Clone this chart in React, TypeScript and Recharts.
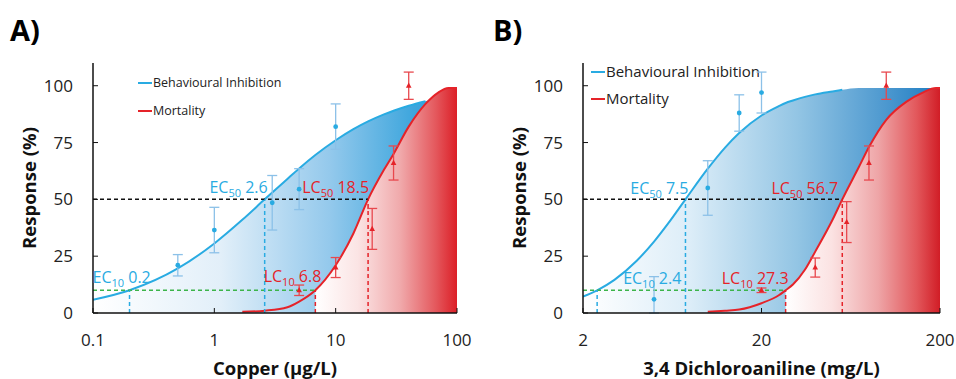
import React from "react";
import {
  ComposedChart,
  Area,
  Line,
  Scatter,
  ErrorBar,
  XAxis,
  YAxis,
  ReferenceLine,
  ReferenceDot,
  Label,
} from "recharts";

// ---- Panel A: copper ----
const copperX = [0.1, 0.2, 0.5, 1, 1.7, 2.6, 4, 5, 6.8, 10, 14, 18.5, 25, 30, 40, 55, 70, 85, 100];
const copperBehaviour = [5.8, 10, 19.6, 30.6, 41, 50, 59, 63.6, 69.5, 76, 80.9, 84.3, 87.4, 89, 91.2, 93.2, 94.4, 95.2, 95.8];
const copperBehavLineEnd = 55;
const copperMortality = [null, null, null, null, 0.5, 1, 2.5, 5, 10, 21, 35, 50, 63, 70, 82, 92, 97, 99, 99];
const copperBehavPtsX = [0.5, 1, 3, 5, 10];
const copperBehavPtsY = [21, 36.5, 48.5, 54.5, 82];
const copperBehavErr = [4.7, 10, 12, 9, 10];
const copperMortPtsX = [5, 10, 20, 30, 40];
const copperMortPtsY = [10, 20, 37, 66, 100];
const copperMortErr = [2.3, 4.4, 9, 7.5, 6];
const copperEC = [0.2, 2.6]; // EC10, EC50
const copperLC = [6.8, 18.5]; // LC10, LC50
const copperTicks = [0.1, 1, 10, 100];

// ---- Panel B: 3,4 dichloroaniline ----
const dcaX = [2, 2.4, 3, 4, 5, 6, 7.5, 10, 12.5, 15, 20, 25, 27.3, 30, 35, 40, 50, 56.7, 70, 80, 100, 130, 160, 190, 200];
const dcaBehaviour = [7.2, 10, 14.6, 23, 31.4, 39.4, 50, 63.5, 72.8, 79.2, 86.9, 91, 92.4, 93.5, 95.1, 96.2, 97.5, 98.2, 99, 99, 99, 99, 99, 99, 99];
const dcaBehavLineEnd = 56.7;
const dcaMortality = [null, null, null, null, null, null, null, 0.5, 1, 1.5, 4.3, 7.8, 10, 12.5, 19, 27, 41, 50, 64, 73, 85, 93, 97, 99, 99];
const dcaBehavPtsX = [5, 10, 15, 20];
const dcaBehavPtsY = [6, 55, 88, 97];
const dcaBehavErr: (number | number[])[] = [[6, 10], 12, 8, 9];
const dcaMortPtsX = [20, 40, 60, 80, 100];
const dcaMortPtsY = [10, 20, 40, 66, 100];
const dcaMortErr = [1, 4.2, 9, 7.5, 6];
const dcaEC = [2.4, 7.5];
const dcaLC = [27.3, 56.7];
const dcaTicks = [2, 20, 200];

const yTicks = [0, 25, 50, 75, 100];

const FONT = "'Open Sans', 'Segoe UI', sans-serif";
const BLUE = "#29abe2";
const RED = "#e52329";
const GREEN = "#3cb44a";

const DoseLabel = (props: any) => {
  const { viewBox, prefix, sub, value, color, dx, dy, anchor } = props;
  if (!viewBox) return null;
  return (
    <text
      x={viewBox.x + dx}
      y={viewBox.y + dy}
      fill={color}
      fontSize={16}
      fontFamily={FONT}
      textAnchor={anchor}
    >
      {prefix}
      <tspan fontSize={11} dy={4}>{sub}</tspan>
      <tspan dy={-4}>{" " + value}</tspan>
    </text>
  );
};

const Dot = (color: string) => (p: any) =>
  p.cx == null ? null : <circle cx={p.cx} cy={p.cy} r={2.4} fill={color} />;

const Tri = (color: string) => (p: any) =>
  p.cx == null ? null : (
    <path
      d={`M${p.cx},${p.cy - 3.2} L${p.cx + 2.8},${p.cy + 2} L${p.cx - 2.8},${p.cy + 2} Z`}
      fill={color}
    />
  );

const Legend2 = ({ x, y, gap, size }: { x: number; y: number; gap: number; size: number }) => (
  <g fontFamily={FONT} fontSize={size} fill="#222">
    <line x1={x} x2={x + 14} y1={y} y2={y} stroke={BLUE} strokeWidth={2} />
    <text x={x + 15} y={y} dy="0.35em">Behavioural Inhibition</text>
    <line x1={x} x2={x + 14} y1={y + gap} y2={y + gap} stroke={RED} strokeWidth={2} />
    <text x={x + 15} y={y + gap} dy="0.35em">Mortality</text>
  </g>
);

type PanelProps = {
  id: string;
  letter: string;
  xs: number[];
  behaviour: number[];
  behavLineEnd: number;
  mortality: (number | null)[];
  bX: number[];
  bY: number[];
  bErr: (number | number[])[];
  mX: number[];
  mY: number[];
  mErr: number[];
  ec: number[];
  lc: number[];
  ticks: number[];
  xTitle: string;
  margin: { top: number; right: number; bottom: number; left: number };
  legend: { x: number; y: number; gap: number; size: number };
  labels: { ec10: number[]; ec50: number[]; lc10: number[]; lc50: number[] };
  blueStops: [number, string][];
  redStops: [number, string][];
};

const Panel = (p: PanelProps) => {
  const data = p.xs.map((x, i) => ({
    x,
    blueFill: p.behaviour[i],
    blueLine: x <= p.behavLineEnd ? p.behaviour[i] : null,
    redLine: p.mortality[i],
    redFill: p.mortality[i] != null && x >= p.lc[0] ? p.mortality[i] : null,
  }));
  const bPts = p.bX.map((x, i) => ({ x, y: p.bY[i], err: p.bErr[i] }));
  const mPts = p.mX.map((x, i) => ({ x, y: p.mY[i], err: p.mErr[i] }));
  const lo = p.ticks[0];
  return (
    <ComposedChart width={478} height={379} data={data} margin={p.margin}>
      <defs>
        <linearGradient id={`blue-${p.id}`} x1="0" y1="0" x2="1" y2="0">
          {p.blueStops.map(([o, c]) => (
            <stop key={o} offset={`${o * 100}%`} stopColor={c} />
          ))}
        </linearGradient>
        <linearGradient id={`red-${p.id}`} x1="0" y1="0" x2="1" y2="0">
          {p.redStops.map(([o, c]) => (
            <stop key={o} offset={`${o * 100}%`} stopColor={c} />
          ))}
        </linearGradient>
      </defs>
      <text x={p.id === "a" ? 10 : 15} y={41} fontFamily={FONT} fontWeight={700} fontSize={29} fill="#000">
        {p.letter}
      </text>
      <XAxis
        dataKey="x"
        type="number"
        scale="log"
        domain={[p.ticks[0], p.ticks[p.ticks.length - 1]]}
        ticks={p.ticks}
        allowDataOverflow
        height={46}
        axisLine={{ stroke: "#111", strokeWidth: 1.5 }}
        tickLine={{ stroke: "#111" }}
        tickSize={-5}
        tickMargin={26}
        tick={{ fontSize: 17, fontFamily: FONT, fill: "#222" }}
        tickFormatter={(v: number) => String(v)}
      >
        <Label
          content={({ viewBox }: any) => (
            <text
              x={viewBox.x + viewBox.width / 2}
              y={viewBox.y + 62}
              textAnchor="middle"
              fontFamily={FONT}
              fontWeight={700}
              fontSize={18.5}
              fill="#111"
            >
              {p.xTitle}
            </text>
          )}
        />
      </XAxis>
      <YAxis
        type="number"
        domain={[0, 110]}
        ticks={yTicks}
        allowDataOverflow
        width={58}
        axisLine={{ stroke: "#111", strokeWidth: 1.5 }}
        tickLine={{ stroke: "#111" }}
        tickSize={-5}
        tickMargin={25}
        tick={{ fontSize: 17, fontFamily: FONT, fill: "#222" }}
      >
        <Label
          content={({ viewBox }: any) => {
            const cx = viewBox.x - 7;
            const cy = viewBox.y + viewBox.height / 2;
            return (
              <text
                x={cx}
                y={cy}
                transform={`rotate(-90 ${cx} ${cy})`}
                textAnchor="middle"
                dominantBaseline="central"
                fontFamily={FONT}
                fontWeight={700}
                fontSize={18.5}
                fill="#111"
              >
                Response (%)
              </text>
            );
          }}
        />
      </YAxis>
      <Area
        dataKey="blueFill"
        type="monotone"
        stroke="none"
        fill={`url(#blue-${p.id})`}
        fillOpacity={1}
        isAnimationActive={false}
      />
      <Line dataKey="blueLine" type="monotone" stroke={BLUE} strokeWidth={2} dot={false} isAnimationActive={false} />
      <Area
        dataKey="redFill"
        type="monotone"
        stroke="none"
        fill={`url(#red-${p.id})`}
        fillOpacity={1}
        isAnimationActive={false}
      />
      <Line dataKey="redLine" type="monotone" stroke={RED} strokeWidth={2} dot={false} isAnimationActive={false} />

      <ReferenceLine segment={[{ x: lo, y: 50 }, { x: p.lc[1], y: 50 }]} stroke="#111" strokeDasharray="4 3" strokeWidth={1.5} />
      <ReferenceLine segment={[{ x: lo, y: 10 }, { x: p.lc[0], y: 10 }]} stroke={GREEN} strokeDasharray="4 3" strokeWidth={1.5} />
      <ReferenceLine segment={[{ x: p.ec[0], y: 0 }, { x: p.ec[0], y: 10 }]} stroke={BLUE} strokeDasharray="4 3" strokeWidth={1.5} />
      <ReferenceLine segment={[{ x: p.ec[1], y: 0 }, { x: p.ec[1], y: 50 }]} stroke={BLUE} strokeDasharray="4 3" strokeWidth={1.5} />
      <ReferenceLine segment={[{ x: p.lc[0], y: 0 }, { x: p.lc[0], y: 10 }]} stroke={RED} strokeDasharray="4 3" strokeWidth={1.5} />
      <ReferenceLine segment={[{ x: p.lc[1], y: 0 }, { x: p.lc[1], y: 50 }]} stroke={RED} strokeDasharray="4 3" strokeWidth={1.5} />

      <Scatter data={bPts} dataKey="y" shape={Dot(BLUE)} isAnimationActive={false}>
        <ErrorBar dataKey="err" direction="y" width={5} stroke="#8cc1e8" strokeWidth={1.3} />
      </Scatter>
      <Scatter data={mPts} dataKey="y" shape={Tri(RED)} isAnimationActive={false}>
        <ErrorBar dataKey="err" direction="y" width={5} stroke="#e8484e" strokeWidth={1.3} />
      </Scatter>

      <ReferenceDot x={p.ec[0]} y={10} r={0} fill="none" stroke="none"
        label={<DoseLabel prefix="EC" sub="10" value={p.ec[0]} color={BLUE} dx={p.labels.ec10[0]} dy={p.labels.ec10[1]} anchor="start" />} />
      <ReferenceDot x={p.ec[1]} y={50} r={0} fill="none" stroke="none"
        label={<DoseLabel prefix="EC" sub="50" value={p.ec[1]} color={BLUE} dx={p.labels.ec50[0]} dy={p.labels.ec50[1]} anchor="end" />} />
      <ReferenceDot x={p.lc[0]} y={10} r={0} fill="none" stroke="none"
        label={<DoseLabel prefix="LC" sub="10" value={p.lc[0]} color={RED} dx={p.labels.lc10[0]} dy={p.labels.lc10[1]} anchor="end" />} />
      <ReferenceDot x={p.lc[1]} y={50} r={0} fill="none" stroke="none"
        label={<DoseLabel prefix="LC" sub="50" value={p.lc[1]} color={RED} dx={p.labels.lc50[0]} dy={p.labels.lc50[1]} anchor="end" />} />

      <Legend2 {...p.legend} />
    </ComposedChart>
  );
};

export default function App() {
  return (
    <div style={{ position: "absolute", left: 0, top: 0, width: 956, height: 379, display: "flex", background: "#fff" }}>
      <Panel
        id="a"
        letter="A)"
        xs={copperX}
        behaviour={copperBehaviour}
        behavLineEnd={copperBehavLineEnd}
        mortality={copperMortality}
        bX={copperBehavPtsX}
        bY={copperBehavPtsY}
        bErr={copperBehavErr}
        mX={copperMortPtsX}
        mY={copperMortPtsY}
        mErr={copperMortErr}
        ec={copperEC}
        lc={copperLC}
        ticks={copperTicks}
        xTitle="Copper (µg/L)"
        margin={{ top: 63, right: 21, bottom: 20, left: 35 }}
        legend={{ x: 138, y: 83, gap: 28, size: 12.5 }}
        labels={{ ec10: [-37, -7], ec50: [3, -6], lc10: [6, -8], lc50: [1, -6] }}
        blueStops={[[0, "#ffffff"], [0.35, "#e2eff9"], [0.65, "#94c9ec"], [0.88, "#3ea6dd"], [1, "#2b97d4"]]}
        redStops={[[0, "#ffffff"], [0.3, "#fbe4e4"], [0.6, "#f0a9ab"], [0.85, "#e4585d"], [1, "#dc1f27"]]}
      />
      <Panel
        id="b"
        letter="B)"
        xs={dcaX}
        behaviour={dcaBehaviour}
        behavLineEnd={dcaBehavLineEnd}
        mortality={dcaMortality}
        bX={dcaBehavPtsX}
        bY={dcaBehavPtsY}
        bErr={dcaBehavErr}
        mX={dcaMortPtsX}
        mY={dcaMortPtsY}
        mErr={dcaMortErr}
        ec={dcaEC}
        lc={dcaLC}
        ticks={dcaTicks}
        xTitle="3,4 Dichloroaniline (mg/L)"
        margin={{ top: 63, right: 16, bottom: 20, left: 47 }}
        legend={{ x: 113, y: 72, gap: 27, size: 15 }}
        labels={{ ec10: [26, -6], ec50: [3, -5], lc10: [3, -6], lc50: [-4, -5] }}
        blueStops={[[0, "#ffffff"], [0.3, "#dcedf8"], [0.6, "#93c5e4"], [0.85, "#4c98cf"], [1, "#1c7bc2"]]}
        redStops={[[0, "#ffffff"], [0.3, "#fbe2e2"], [0.6, "#eea5a7"], [0.85, "#e2575b"], [1, "#d11d26"]]}
      />
    </div>
  );
}
